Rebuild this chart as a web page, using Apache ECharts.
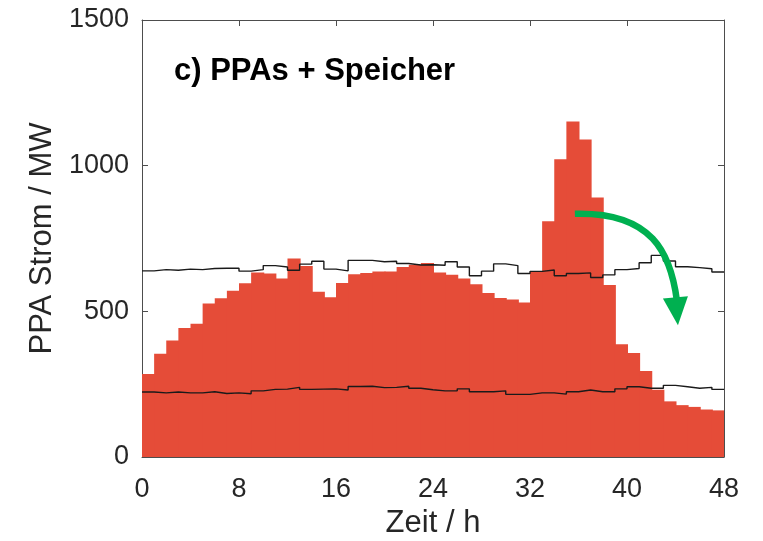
<!DOCTYPE html>
<html>
<head>
<meta charset="utf-8">
<script src="https://cdn.jsdelivr.net/npm/echarts@6/dist/echarts.min.js"></script>
<style>html,body{margin:0;padding:0;background:#fff}#c{width:763px;height:541px}</style>
</head>
<body>
<div id="c"></div>
<script>
// hourly PPA power (bars), MW
const barValues = [285,354,400,443,457,527,545,571,596,633,630,613,681,656,567,548,597,627,632,637,637,652,660,666,
  633,626,613,593,563,546,541,530,638,809,1022,1152,1090,891,590,387,357,295,231,191,178,172,163,160];
// upper step line
const upperLine = [639,643,641,645,643,647,648,648,638,643,657,652,641,662,672,645,639,675,675,670,672,664,659,660,
  658,670,652,622,638,663,657,630,637,642,622,630,632,616,625,643,647,667,692,673,653,650,646,635];
// lower step line
const lowerLine = [223,220,223,220,220,224,218,220,217,227,232,233,239,232,233,234,230,242,243,238,239,243,236,231,
  227,227,234,224,224,227,215,215,220,220,216,224,230,224,224,234,241,236,236,246,241,236,239,232];
const xTicks = [0,8,16,24,32,40,48];
const yTicks = [0,500,1000,1500];
const titleText = 'c) PPAs + Speicher';
const xName = 'Zeit / h';
const yName = 'PPA Strom / MW';
// arrow annotation in data coords
const arrowStart = [35.7, 835];
const arrowEnd = [44.2, 452];

const chart = echarts.init(document.getElementById('c'), null, {renderer:'canvas'});
const font = 'Liberation Sans, Arial, Helvetica, sans-serif';
const axisColor = '#4d4d4d';
const textColor = '#262626';

function stepData(arr){
  const d = arr.map((v,i)=>[i,v]);
  d.push([arr.length, arr[arr.length-1]]);
  return d;
}
const plainFmt = v => String(v);

const tickStyle = {show:true,inside:true,length:6,lineStyle:{color:axisColor}};
const lineStyle = {show:true,onZero:false,lineStyle:{color:axisColor,width:1}};

const option = {
  animation:false,
  backgroundColor:'#fff',
  grid:{left:142,right:39,top:20,bottom:84,containLabel:false,outerBoundsMode:'none'},
  title:{text:titleText,left:169,top:51,textStyle:{fontFamily:font,fontSize:31,fontWeight:'bold',color:'#000'}},
  xAxis:[{
    type:'value',min:0,max:48,interval:8,position:'bottom',
    name:xName,nameLocation:'middle',nameGap:50,
    nameTextStyle:{fontFamily:font,fontSize:31,color:textColor},
    axisLine:lineStyle,axisTick:tickStyle,
    axisLabel:{fontFamily:font,fontSize:27,color:textColor,margin:19,formatter:plainFmt},
    splitLine:{show:false}
  },{
    type:'value',min:0,max:48,interval:8,position:'top',
    axisLine:lineStyle,axisTick:tickStyle,
    axisLabel:{show:false},splitLine:{show:false}
  }],
  yAxis:[{
    type:'value',min:0,max:1500,interval:500,position:'left',
    name:yName,nameLocation:'middle',nameGap:82,
    nameTextStyle:{fontFamily:font,fontSize:31,color:textColor},
    axisLine:lineStyle,axisTick:tickStyle,
    axisLabel:{fontFamily:font,fontSize:27,color:textColor,margin:13,formatter:plainFmt},
    splitLine:{show:false}
  },{
    type:'value',min:0,max:1500,interval:500,position:'right',
    axisLine:lineStyle,axisTick:tickStyle,
    axisLabel:{show:false},splitLine:{show:false}
  }],
  series:[{
    type:'custom',
    data:barValues.map((v,i)=>[i,v]),
    renderItem:function(params,api){
      const h=api.value(0), v=api.value(1);
      const p0=api.coord([h,v]);
      const p1=api.coord([h+1,0]);
      const last = h===barValues.length-1;
      return {type:'rect',shape:{x:p0[0],y:p0[1],width:p1[0]-p0[0]+(last?0:1),height:p1[1]-p0[1]},
        style:{fill:'#e54c38',stroke:null}};
    },
    z:1
  },{
    type:'line',data:stepData(upperLine),step:'end',symbol:'none',
    lineStyle:{color:'#1a1a1a',width:1.4},z:3
  },{
    type:'line',data:stepData(lowerLine),step:'end',symbol:'none',
    lineStyle:{color:'#1a1a1a',width:1.4},z:3
  }]
};
chart.setOption(option);

const s = chart.convertToPixel({gridIndex:0},arrowStart);
const e = chart.convertToPixel({gridIndex:0},arrowEnd);
const dx = e[0]-s[0], dy = e[1]-s[1];
chart.setOption({graphic:[{
  type:'bezierCurve',
  shape:{x1:s[0],y1:s[1],cpx1:s[0]+dx*0.75,cpy1:s[1]-2,cpx2:s[0]+dx*0.93,cpy2:s[1]+dy*0.35,x2:e[0]-1,y2:e[1]-dy*0.22},
  style:{stroke:'#00b050',lineWidth:6.5,fill:null},z:10
},{
  type:'polygon',
  shape:{points:[[e[0]-15,e[1]-dy*0.24],[e[0]+10,e[1]-dy*0.26],[e[0],e[1]]]},
  style:{fill:'#00b050'},z:10
}]});
</script>
</body>
</html>
